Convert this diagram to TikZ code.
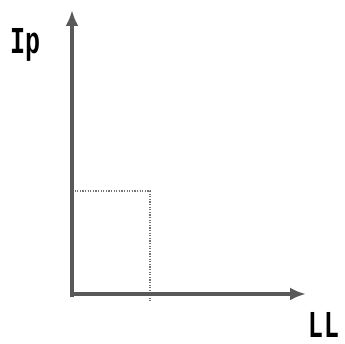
\documentclass[tikz,border=0pt]{standalone}
\usepackage{fontspec}
\newfontfamily\lblfont{Liberation Mono}
\usetikzlibrary{arrows.meta}
\begin{document}
\begin{tikzpicture}[x=1pt,y=1pt,>={Latex[length=16pt,width=13pt]}]
    \tikzstyle{axis}=[draw=black!65,line width=3.5pt]
    \tikzstyle{guide}=[draw=black!55,line width=2pt,dash pattern=on 1.2pt off 1.4pt]
    \tikzstyle{lbl}=[font=\lblfont\bfseries\fontsize{38}{38}\selectfont,inner sep=0pt,xscale=0.66,transform shape]
    \useasboundingbox (0,0) rectangle (345,344);

    \coordinate (origin) at (72,50);
    \coordinate (ytip) at (72,334);
    \coordinate (xtip) at (306,50);
    \coordinate (ymark) at (72,153);
    \coordinate (corner) at (150,153);
    \coordinate (xmark) at (150,42);

    \draw[guide] (ymark) -- (corner) -- (xmark);
    \draw[axis,->] (72,47) -- (ytip);
    \draw[axis,->] (origin) -- (xtip);

    \node[lbl] (ip) at (26,299) {Ip};
    \node[lbl] (ll) at (324,19) {LL};
\end{tikzpicture}
\end{document}
